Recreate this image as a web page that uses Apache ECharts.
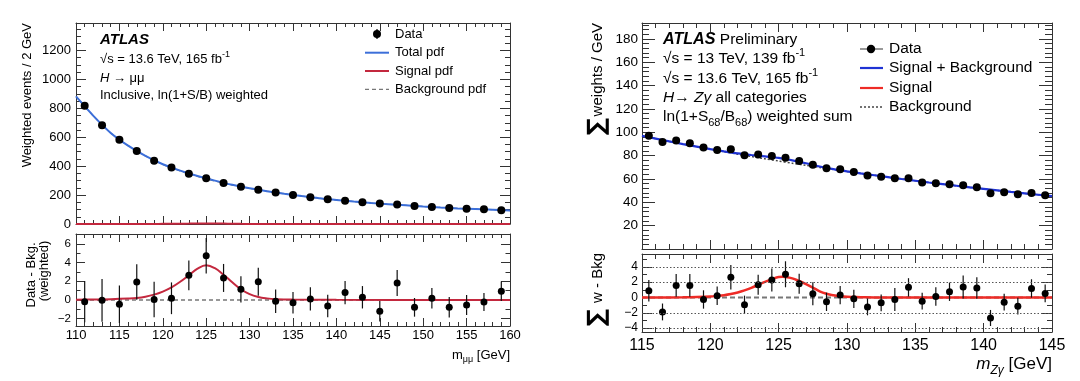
<!DOCTYPE html>
<html><head><meta charset="utf-8">
<script src="https://cdn.jsdelivr.net/npm/echarts@6/dist/echarts.min.js"></script>
<style>html,body{margin:0;padding:0;background:#fff}#c{width:1080px;height:381px}</style>
</head><body><div id="c"></div>
<script>
// ================= Left panel: H -> mu mu =================
const massL = [111,113,115,117,119,121,123,125,127,129,131,133,135,137,139,141,143,145,147,149,151,153,155,157,159];
const dataL = [817,683,582,505,438,390,348,316,284,258,237,218,201,185,171,161,150,141,134,125,118,111,106,102,95];
const resL  = [-0.18,-0.04,-0.46,1.93,0.04,0.18,2.64,4.75,2.36,1.14,1.96,-0.14,-0.29,0.11,-0.64,0.79,0.29,-1.21,1.82,-0.79,0.18,-0.79,-0.54,-0.21,0.93];
const errL  = [2.2,2.3,2.0,1.9,1.9,1.7,1.6,1.9,1.5,1.4,1.5,1.25,1.15,1.25,1.2,1.25,1.2,1.1,1.4,1.0,1.1,1.1,1.07,0.96,1.04];
const curveMassL = [110,112,114,116,118,120,122,124,126,128,130,132,134,136,138,140,142,144,146,148,150,152,154,156,158,160];
const totalPdfL  = [882,748,630,542,471,413,369,332,300,271,247,227,209,193,178,166,155,145,137,129,121,114,108,104,99,93];
const bkgPdfL    = [882,748,630,542,471,412,367,329,297,269,246,227,209,193,178,166,155,145,137,129,121,114,108,104,99,93];
const sigMassL = [110,112,114,116,117,118,119,120,121,122,123,124,125,126,127,128,129,130,131,132,133,135,140,160];
const sigPdfL  = [0.03,0.05,0.09,0.16,0.22,0.35,0.57,0.9,1.35,1.95,2.65,3.35,3.71,3.4,2.7,1.9,1.15,0.62,0.32,0.17,0.09,0.04,0.01,0];
const xTicksL  = [110,115,120,125,130,135,140,145,150,155,160];
const yTicksLU = [0,200,400,600,800,1000,1200];
const yTicksLL = [-2,0,2,4,6];

// ================= Right panel: H -> Z gamma =================
const massR = [115.5,116.5,117.5,118.5,119.5,120.5,121.5,122.5,123.5,124.5,125.5,126.5,127.5,128.5,129.5,130.5,131.5,132.5,133.5,134.5,135.5,136.5,137.5,138.5,139.5,140.5,141.5,142.5,143.5,144.5];
const dataR = [97.1,91.7,92.9,90.6,86.9,84.9,85.4,80.3,80.9,79.7,78.3,75.4,72.3,69.3,68.3,66.0,63.1,62.0,60.6,60.6,57.1,56.3,55.4,54.6,52.9,47.7,48.6,46.9,48.0,46.0];
const resR  = [0.88,-1.89,1.58,1.58,-0.26,0.22,2.63,-0.96,1.67,2.28,3.03,1.8,0.48,-0.57,0.31,-0.18,-1.23,-0.7,-0.26,1.32,-0.48,0.13,0.75,1.36,1.23,-2.68,-0.61,-1.14,1.18,0.53];
const errR  = [1.4,1.1,1.5,1.5,1.2,1.2,1.6,1.2,1.3,1.5,1.7,1.3,1.5,1.2,1.2,1.2,1.1,1.1,1.5,1.2,1.1,1.2,1.2,1.5,1.4,1.05,1.1,1.1,1.2,1.15];
const curveMassR = [115,116,117,118,119,120,121,122,123,124,125,126,127,128,129,130,131,132,133,134,135,136,137,138,139,140,141,142,143,144,145];
const bkgR = [97.0,94.6,92.2,89.9,87.7,85.5,83.4,81.3,79.3,77.3,75.4,73.5,71.7,69.9,68.2,66.5,64.8,63.2,61.6,60.0,58.5,57.0,55.6,54.2,52.8,51.5,50.2,48.9,47.7,46.5,45.3];
const sbR  = [97.0,94.6,92.2,89.92,87.75,85.62,83.7,81.95,80.55,79.35,78.08,76.0,73.45,70.7,68.48,66.58,64.84,63.21,61.6,60.0,58.5,57.0,55.6,54.2,52.8,51.5,50.2,48.9,47.7,46.5,45.3];
const sigMassR = [115,118,119,120,120.5,121,121.5,122,122.5,123,123.5,124,124.5,125,125.3,125.5,126,126.5,127,127.5,128,128.5,129,129.5,130,131,132,145];
const sigR     = [0,0.02,0.05,0.12,0.2,0.3,0.45,0.65,0.92,1.25,1.65,2.05,2.4,2.68,2.7,2.68,2.5,2.15,1.75,1.3,0.8,0.48,0.28,0.15,0.08,0.04,0.01,0];
const xTicksR  = [115,120,125,130,135,140,145];
const yTicksRU = [20,40,60,80,100,120,140,160,180];
const yTicksRL = [-4,-2,0,2,4];

// ================= helpers =================
const FONT = '"Liberation Sans", Arial, Helvetica, sans-serif';
const AX = '#333';
function range(a, b, s) { const r = []; for (let v = a; v <= b + 1e-9; v += s) r.push(Math.round(v * 1000) / 1000); return r; }
const fmt = v => (v < 0 ? '\u2212' : '') + Math.abs(v);

function axis(g, pos, min, max, ticks, len, line, labels, fs, margin) {
  return {
    type: 'value', gridIndex: g, position: pos, min: min, max: max, silent: true,
    axisLine: { show: line, onZero: false, lineStyle: { color: AX, width: 1 } },
    axisTick: { show: true, inside: true, length: len, customValues: ticks, lineStyle: { color: AX, width: 1 } },
    axisLabel: labels ? { show: true, customValues: labels, fontSize: fs, fontFamily: FONT, color: '#000', margin: margin, formatter: fmt } : { show: false },
    splitLine: { show: false }, minorTick: { show: false }, axisPointer: { show: false }
  };
}
function gridAxes(g, xr, yr, xMaj, xMin, yMaj, yMin, L, lab) {
  return {
    x: [
      axis(g, 'bottom', xr[0], xr[1], xMaj, L.xM, true, lab.x, lab.xfs, lab.xm),
      axis(g, 'bottom', xr[0], xr[1], xMin, L.xm, false),
      axis(g, 'top', xr[0], xr[1], xMaj, L.xM, true),
      axis(g, 'top', xr[0], xr[1], xMin, L.xm, false)
    ],
    y: [
      axis(g, 'left', yr[0], yr[1], yMaj, L.yM, true, lab.y, lab.yfs, lab.ym),
      axis(g, 'left', yr[0], yr[1], yMin, L.ym, false),
      axis(g, 'right', yr[0], yr[1], yMaj, L.yM, true),
      axis(g, 'right', yr[0], yr[1], yMin, L.ym, false)
    ]
  };
}
const A0 = gridAxes(0, [110, 160], [0, 1390], xTicksL, range(110, 160, 1), yTicksLU, range(0, 1350, 50),
  { xM: 8, xm: 4, yM: 10, ym: 5 }, { x: null, y: yTicksLU, yfs: 13, ym: 5 });
const A1 = gridAxes(1, [110, 160], [-2.79, 7.07], xTicksL, range(110, 160, 1), yTicksLL, range(-2, 7, 1),
  { xM: 8, xm: 4, yM: 9, ym: 4.5 }, { x: xTicksL, xfs: 13, xm: 3, y: yTicksLL, yfs: 11.5, ym: 5 });
const A2 = gridAxes(2, [115, 145], [0, 193.7], xTicksR, range(115, 145, 1), yTicksRU, range(0, 192, 4),
  { xM: 9, xm: 5, yM: 13, ym: 7 }, { x: null, y: yTicksRU, yfs: 13.5, ym: 4 });
const A3 = gridAxes(3, [115, 145], [-4.51, 5.68], xTicksR, range(115, 145, 1), yTicksRL, range(-4, 5, 1),
  { xM: 9, xm: 5, yM: 10, ym: 5 }, { x: xTicksR, xfs: 16, xm: 6, y: yTicksRL, yfs: 12, ym: 4 });
const xAxes = [].concat(A0.x, A1.x, A2.x, A3.x);
const yAxes = [].concat(A0.y, A1.y, A2.y, A3.y);

const zip = (xs, ys) => xs.map((x, i) => [x, ys[i]]);
function errItem(params, api) {
  const a = api.coord([api.value(0), api.value(1)]);
  const b = api.coord([api.value(0), api.value(2)]);
  return { type: 'line', shape: { x1: a[0], y1: a[1], x2: b[0], y2: b[1] }, style: { stroke: '#111', lineWidth: 1.2 } };
}
function errSeries(g, xs, vs, es) {
  return { type: 'custom', xAxisIndex: g * 4, yAxisIndex: g * 4, clip: true, silent: true, z: 3,
    renderItem: errItem, encode: { x: 0, y: [1, 2] },
    data: xs.map((x, i) => [x, vs[i] - es[i], vs[i] + es[i]]) };
}
function pts(g, xs, vs, size) {
  return { type: 'scatter', xAxisIndex: g * 4, yAxisIndex: g * 4, symbol: 'circle', symbolSize: size, silent: true, z: 4,
    itemStyle: { color: '#000', opacity: 1 }, data: zip(xs, vs) };
}
function curve(g, xs, vs, color, width, dash, smooth) {
  return { type: 'line', xAxisIndex: g * 4, yAxisIndex: g * 4, showSymbol: false, symbol: 'none', silent: true, z: 2,
    smooth: smooth, lineStyle: { color: color, width: width, type: dash || 'solid' }, data: zip(xs, vs) };
}
const BLUE_L = '#3c6fd9', RED_L = '#c3283e', BLUE_R = '#1f33d4', RED_R = '#ee2b26';

const series = [
  // left upper
  curve(0, curveMassL, bkgPdfL, '#777', 1.2, [4, 3], 0.3),
  curve(0, curveMassL, totalPdfL, BLUE_L, 2, null, 0.3),
  curve(0, sigMassL, sigPdfL, RED_L, 2, null, 0.3),
  errSeries(0, massL, dataL, errL),
  pts(0, massL, dataL, 8),
  // left lower
  Object.assign(curve(1, [110, 160], [0, 0], '#777', 1.5, [4, 3], false), { z: 1 }),
  curve(1, sigMassL, sigPdfL, RED_L, 2, null, 0.4),
  errSeries(1, massL, resL, errL),
  pts(1, massL, resL, 7),
  // right upper
  curve(2, curveMassR, bkgR, '#444', 1.5, [2, 2], 0.3),
  curve(2, curveMassR, sbR, BLUE_R, 2.2, null, 0.3),
  errSeries(2, massR, dataR, errR),
  pts(2, massR, dataR, 8),
  // right lower
  Object.assign(curve(3, [115, 145], [0, 0], '#777', 2, [5, 3], false), {
    z: 1,
    markLine: { silent: true, symbol: 'none', label: { show: false },
      lineStyle: { color: '#555', width: 1, type: [1.5, 2] },
      data: yTicksRL.filter(v => v !== 0).map(v => ({ yAxis: v })) }
  }),
  curve(3, sigMassR, sigR, RED_R, 2.5, null, 0.4),
  errSeries(3, massR, resR, errR),
  pts(3, massR, resR, 7)
];

// ---------- text helpers ----------
function R(fs, lh) {
  const base = { fontFamily: FONT, fill: '#000', fontSize: fs, fontStyle: 'normal', fontWeight: 'normal', verticalAlign: 'middle', lineHeight: lh || fs * 1.45 };
  const small = Math.round(fs * 0.68);
  return {
    n: Object.assign({}, base),
    i: Object.assign({}, base, { fontStyle: 'italic' }),
    bi: Object.assign({}, base, { fontStyle: 'italic', fontWeight: 'bold', fontSize: fs * 1.04 }),
    sup: Object.assign({}, base, { fontSize: small, lineHeight: small, verticalAlign: 'top' }),
    sub: Object.assign({}, base, { fontSize: small, lineHeight: small, verticalAlign: 'bottom' }),
    subi: Object.assign({}, base, { fontSize: small, lineHeight: small, verticalAlign: 'bottom', fontStyle: 'italic' })
  };
}
function T(x, y, text, fs, o) {
  o = o || {};
  return { type: 'text', x: x, y: y, rotation: o.rot || 0, silent: true, z: 100,
    style: { text: text, fill: '#000', fontFamily: o.ff || FONT, fontSize: fs, fontStyle: o.it ? 'italic' : 'normal', fontWeight: o.b ? 'bold' : 'normal',
      align: o.align || 'left', verticalAlign: 'middle', rich: R(fs, o.lh) } };
}
function L(x1, y, x2, color, w, dash) {
  return { type: 'line', silent: true, z: 100, shape: { x1: x1, y1: y, x2: x2, y2: y }, style: { stroke: color, lineWidth: w, lineDash: dash || null } };
}
function dot(x, y, r) { return { type: 'circle', silent: true, z: 101, shape: { cx: x, cy: y, r: r }, style: { fill: '#000' } }; }
const ROT = Math.PI / 2;
const SIG = { align: 'center', ff: '"DejaVu Sans", sans-serif', b: true, rot: ROT };

const graphic = [
  // left annotations
  T(100, 40, 'ATLAS', 15, { b: true, it: true }),
  T(100, 59, '{n|\u221As = 13.6 TeV, 165 fb}{sup|-1}', 13),
  T(100, 78, '{i|H}{n| \u2192 \u03bc\u03bc}', 13),
  T(100, 95, 'Inclusive, ln(1+S/B) weighted', 13),
  // left legend
  { type: 'line', silent: true, z: 100, shape: { x1: 377, y1: 29, x2: 377, y2: 39 }, style: { stroke: '#000', lineWidth: 1.2 } },
  dot(377, 34, 4),
  T(395, 34, 'Data', 13),
  L(365, 52.7, 389, BLUE_L, 2), T(395, 52.7, 'Total pdf', 13),
  L(365, 71, 389, RED_L, 2), T(395, 71, 'Signal pdf', 13),
  L(365, 89.3, 389, '#777', 1.2, [4, 3]), T(395, 89.3, 'Background pdf', 13),
  // left axis titles
  T(27, 23, 'Weighted events / 2 GeV', 13, { rot: ROT, align: 'right' }),
  T(31, 275, 'Data - Bkg.', 13, { rot: ROT, align: 'center' }),
  T(44, 271, '(weighted)', 13, { rot: ROT, align: 'center' }),
  T(510, 355, '{n|m}{sub|\u03bc\u03bc}{n| [GeV]}', 13, { align: 'right' }),

  // right annotations
  T(663, 40, '{bi|ATLAS}{n| Preliminary}', 15.5),
  T(663, 59, '{n|\u221As = 13 TeV, 139 fb}{sup|-1}', 15.5),
  T(663, 79, '{n|\u221As = 13.6 TeV, 165 fb}{sup|-1}', 15.5),
  T(663, 98, '{i|H}{n|\u2192 }{i|Z\u03b3}{n| all categories}', 15.5),
  T(663, 117, '{n|ln(1+S}{sub|68}{n|/B}{sub|68}{n|) weighted sum}', 15.5),
  // right legend
  L(860, 49, 883, '#555', 1.2), dot(871, 49, 4.2), T(889, 49, 'Data', 15.5),
  L(860, 68, 883, BLUE_R, 2.2), T(889, 68, 'Signal + Background', 15.5),
  L(860, 88, 883, RED_R, 2.2), T(889, 88, 'Signal', 15.5),
  L(860, 107, 883, '#444', 1.5, [2, 2]), T(889, 107, 'Background', 15.5),
  // right axis titles (whole title rotated, including the sum sign)
  T(598, 23, 'weights / GeV', 15, { rot: ROT, align: 'right' }),
  T(598, 127, '\u2211', 24, SIG),
  T(598, 253, 'w - Bkg', 15, { rot: ROT, align: 'right' }),
  T(598, 318, '\u2211', 24, SIG),
  T(1052, 364, '{i|m}{subi|Z\u03b3}{n| [GeV]}', 17, { align: 'right' })
];

const chart = echarts.init(document.getElementById('c'), null, { renderer: 'canvas' });
chart.setOption({
  animation: false,
  backgroundColor: '#fff',
  grid: [
    { left: 76, top: 23, width: 434, height: 201, containLabel: false, outerBoundsMode: 'none' },
    { left: 76, top: 234, width: 434, height: 92, containLabel: false, outerBoundsMode: 'none' },
    { left: 642, top: 23, width: 410, height: 226, containLabel: false, outerBoundsMode: 'none' },
    { left: 642, top: 254, width: 410, height: 78, containLabel: false, outerBoundsMode: 'none' }
  ],
  xAxis: xAxes,
  yAxis: yAxes,
  series: series,
  graphic: graphic
});
</script>
</body></html>
